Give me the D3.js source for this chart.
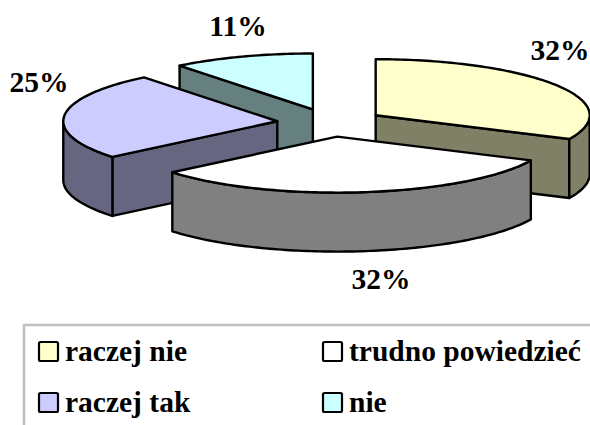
<!DOCTYPE html>
<html>
<head>
<meta charset="utf-8">
<script src="https://cdn.jsdelivr.net/npm/d3@7"></script>
<style>
body { margin: 0; background: #fff; }
text { font-family: "Liberation Serif", serif; font-weight: bold; fill: #000; }
</style>
</head>
<body>
<svg width="590" height="425"></svg>
<script>
let categories = ["raczej nie", "trudno powiedzieć", "raczej tak", "nie"];
let values = [32, 32, 25.3, 10.7];
let topColors = ["#ffffcc", "#ffffff", "#ccccff", "#ccffff"];
let sideColors = ["#808066", "#808080", "#666680", "#668080"];

var svg = d3.select("svg");

// pie geometry
let cx = 330.5, cy = 122.7, rx = 214, ry = 56, depth = 59, explode = 0.25;

let pie = d3.pie().sort(null).value(d => d);
let slices = pie(values);

let line = d3.line();

function ring(a, b){
    let n = Math.max(2, Math.ceil((b - a) / 0.02));
    return d3.range(n + 1).map(i => {
        let t = a + (b - a) * i / n;
        return [rx * Math.sin(t), -ry * Math.cos(t)];
    });
}

function drop(points){
    return points.map(p => [p[0], p[1] + depth]);
}

function drawFace(g, points, color){
    g.append("path")
        .attr("d", line(points) + "Z")
        .attr("fill", color)
        .attr("stroke", "black")
        .attr("stroke-width", 2.4)
        .attr("stroke-linejoin", "round");
}

// back slices first, white one comes last because it overlaps the others
let order = [3, 2, 0, 1];
order.forEach(i => {
    let s = slices[i];
    let mid = (s.startAngle + s.endAngle) / 2;
    let g = svg.append("g")
        .attr("transform", "translate(" + (cx + explode * rx * Math.sin(mid)) + "," + (cy - explode * ry * Math.cos(mid)) + ")");
    let side = sideColors[i];
    let arcTop = ring(s.startAngle, s.endAngle);

    // radial walls
    if(Math.sin(s.startAngle) < -0.01){
        let e = arcTop[0];
        drawFace(g, [[0, 0], e, [e[0], e[1] + depth], [0, depth]], side);
    }
    if(Math.sin(s.endAngle) > 0.01){
        let e = arcTop[arcTop.length - 1];
        drawFace(g, [[0, 0], e, [e[0], e[1] + depth], [0, depth]], side);
    }

    // outer wall, only the near half of the rim shows
    let a = Math.max(s.startAngle, Math.PI / 2), b = Math.min(s.endAngle, Math.PI * 1.5);
    if(b > a){
        let rim = ring(a, b);
        drawFace(g, rim.concat(drop(rim).reverse()), side);
    }

    drawFace(g, [[0, 0]].concat(arcTop), topColors[i]);
});

// percent labels
let labelX = [560, 381, 39, 238];
let labelY = [60, 289, 92, 36];
svg.append("g").selectAll("text")
    .data(values)
    .enter().append("text")
    .attr("x", (d, i) => labelX[i])
    .attr("y", (d, i) => labelY[i])
    .attr("text-anchor", "middle")
    .attr("font-size", 29.5)
    .text(d => Math.round(d) + "%");

// legend
svg.append("rect")
    .attr("x", 24).attr("y", 325)
    .attr("width", 600).attr("height", 140)
    .attr("fill", "none")
    .attr("stroke", "#c0c0c0")
    .attr("stroke-width", 2.5);

let legendX = [39, 323, 39, 323];
let legendY = [342, 342, 393, 393];
let legend = svg.append("g").selectAll("g")
    .data(categories)
    .enter().append("g")
    .attr("transform", (d, i) => "translate(" + legendX[i] + "," + legendY[i] + ")");

legend.append("rect")
    .attr("width", 19).attr("height", 19)
    .attr("rx", 1.5)
    .attr("fill", (d, i) => topColors[i])
    .attr("stroke", "black")
    .attr("stroke-width", 2.2);

legend.append("text")
    .attr("x", 26).attr("y", 19)
    .attr("font-size", 29.5)
    .text(d => d);
</script>
</body>
</html>
